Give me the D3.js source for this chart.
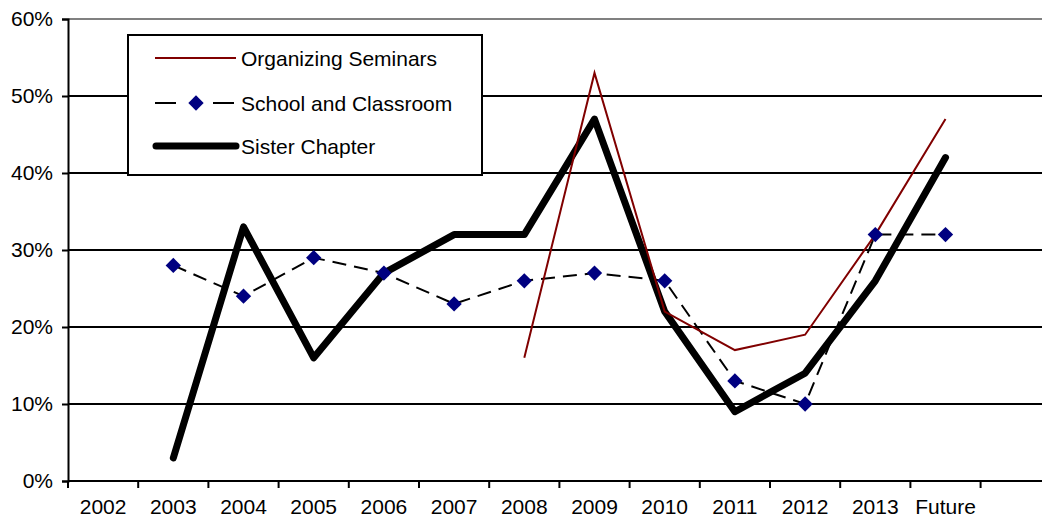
<!DOCTYPE html>
<html>
<head>
<meta charset="utf-8">
<script src="https://cdn.jsdelivr.net/npm/d3@7"></script>
<style>
  body { margin: 0; background: #fff; }
  text { font-family: "Liberation Sans", Arial, sans-serif; font-size: 21px; fill: #000; }
</style>
</head>
<body>
<script>
// categories (last slot is an empty band the axis runs into)
var years = ['2002','2003','2004','2005','2006','2007','2008','2009','2010','2011','2012','2013','Future']
var yTicks = [0, 10, 20, 30, 40, 50, 60]

// percent values, null = no data
var organizing = [null,null,null,null,null,null,16,53,22,17,19,32,47]
var school     = [null,28,24,29,27,23,26,27,26,13,10,32,32]
var sister     = [null,3,33,16,27,32,32,47,22,9,14,26,42]

var legendNames = ['Organizing Seminars', 'School and Classroom', 'Sister Chapter']

var W = 1042, H = 520
var svg = d3.select('body').append('svg')
    .attr('width', W)
    .attr('height', H)

var x = d3.scaleBand()
    .domain(years.concat(['']))
    .range([68, 68 + 14 * 70.2])
var y = d3.scaleLinear()
    .domain([0, 60])
    .range([481, 19])

// gridlines
svg.selectAll('line.grid')
  .data(yTicks.filter(function(d) { return d > 0 }))
  .enter().append('line')
    .attr('class', 'grid')
    .attr('x1', 68).attr('x2', W)
    .attr('y1', function(d) { return y(d) })
    .attr('y2', function(d) { return y(d) })
    .attr('stroke', function(d) { return d === 60 ? '#808080' : '#000' })
    .attr('stroke-width', 2)

// y axis
var yAxis = svg.append('g')
    .attr('transform', 'translate(68,0)')
    .call(d3.axisLeft(y).tickValues(yTicks).tickSize(6).tickPadding(9)
      .tickFormat(function(d) { return d + '%' }))
yAxis.select('.domain').attr('stroke', '#000').attr('stroke-width', 2)
yAxis.selectAll('.tick line').attr('stroke', '#000').attr('stroke-width', 2)
yAxis.selectAll('text').style('font-size', '21px').style('font-family', '"Liberation Sans", Arial, sans-serif').attr('fill', '#000')

// x axis: ticks between categories, labels centred in bands
var xg = svg.append('g').attr('transform', 'translate(0,481)')
xg.append('line')
    .attr('x1', 68).attr('x2', W)
    .attr('stroke', '#000').attr('stroke-width', 2)
var edges = years.map(function(d) { return x(d) }).concat([x('Future') + x.bandwidth()])
xg.selectAll('line.tk')
  .data(edges)
  .enter().append('line')
    .attr('class', 'tk')
    .attr('x1', function(d) { return d }).attr('x2', function(d) { return d })
    .attr('y1', 0).attr('y2', 7)
    .attr('stroke', '#000').attr('stroke-width', 2)
xg.selectAll('text')
  .data(years)
  .enter().append('text')
    .attr('x', function(d) { return x(d) + x.bandwidth() / 2 })
    .attr('y', 33)
    .attr('text-anchor', 'middle')
    .text(function(d) { return d })

function cx(i) { return x(years[i]) + x.bandwidth() / 2 }

var line = d3.line()
    .defined(function(d) { return d !== null })
    .x(function(d, i) { return cx(i) })
    .y(function(d) { return y(d) })

svg.append('path')
    .datum(sister)
    .attr('d', line)
    .attr('fill', 'none')
    .attr('stroke', '#000')
    .attr('stroke-width', 7)
    .attr('stroke-linejoin', 'round')
    .attr('stroke-linecap', 'round')

svg.append('path')
    .datum(school)
    .attr('d', line)
    .attr('fill', 'none')
    .attr('stroke', '#000')
    .attr('stroke-width', 2)
    .attr('stroke-dasharray', '14,8')

svg.append('path')
    .datum(organizing)
    .attr('d', line)
    .attr('fill', 'none')
    .attr('stroke', '#800000')
    .attr('stroke-width', 2)

var diamond = d3.symbol().type(d3.symbolDiamond2).size(150)
svg.selectAll('path.dot')
  .data(school.map(function(v, i) { return {v: v, i: i} }).filter(function(d) { return d.v !== null }))
  .enter().append('path')
    .attr('class', 'dot')
    .attr('d', diamond)
    .attr('transform', function(d) { return 'translate(' + cx(d.i) + ',' + y(d.v) + ')' })
    .attr('fill', '#000080')

// legend
var lg = svg.append('g')
lg.append('rect')
    .attr('x', 128).attr('y', 35)
    .attr('width', 354).attr('height', 140)
    .attr('fill', '#fff')
    .attr('stroke', '#000').attr('stroke-width', 2)
var rowY = [58, 103, 146]
lg.append('line')
    .attr('x1', 155).attr('x2', 236).attr('y1', rowY[0]).attr('y2', rowY[0])
    .attr('stroke', '#800000').attr('stroke-width', 2)
lg.append('line')
    .attr('x1', 155).attr('x2', 176).attr('y1', rowY[1]).attr('y2', rowY[1])
    .attr('stroke', '#000').attr('stroke-width', 2)
lg.append('line')
    .attr('x1', 213).attr('x2', 234).attr('y1', rowY[1]).attr('y2', rowY[1])
    .attr('stroke', '#000').attr('stroke-width', 2)
lg.append('path')
    .attr('d', diamond)
    .attr('transform', 'translate(196,' + rowY[1] + ')')
    .attr('fill', '#000080')
lg.append('line')
    .attr('x1', 156).attr('x2', 236).attr('y1', rowY[2]).attr('y2', rowY[2])
    .attr('stroke', '#000').attr('stroke-width', 7)
    .attr('stroke-linecap', 'round')
lg.selectAll('text')
  .data(legendNames)
  .enter().append('text')
    .attr('x', 241)
    .attr('y', function(d, i) { return rowY[i] + 8 })
    .text(function(d) { return d })
</script>
</body>
</html>
